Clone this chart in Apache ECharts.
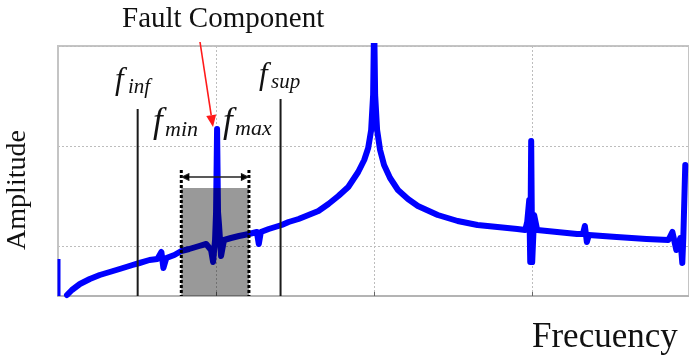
<!DOCTYPE html>
<html>
<head>
<meta charset="utf-8">
<script src="https://cdn.jsdelivr.net/npm/echarts@6/dist/echarts.min.js"></script>
<style>
  html, body { margin: 0; padding: 0; background: #fff; }
  #chart { width: 689px; height: 359px; }
</style>
</head>
<body>
<div id="chart"></div>
<script>
// Spectrum amplitude (arbitrary units) versus frequency (Hz)
const spectrum = [
  [1.42, 0.02], [2.20, 0.12], [3.46, 0.24], [5.03, 0.34], [6.60, 0.42],
  [8.18, 0.48], [9.75, 0.54], [11.79, 0.62], [12.89, 0.66], [14.47, 0.72],
  [15.72, 0.74], [16.35, 0.88], [16.67, 0.56], [17.14, 0.76], [18.40, 0.82],
  [19.50, 0.90], [20.75, 0.94], [22.33, 1.00], [23.43, 1.04], [24.21, 0.92],
  [24.53, 0.68], [24.84, 1.12], [25.00, 1.68], [25.16, 3.34], [25.31, 1.68],
  [25.47, 1.42], [25.79, 0.80], [26.26, 1.12], [27.36, 1.16], [28.62, 1.20],
  [30.19, 1.24], [31.45, 1.28], [31.76, 1.04], [32.08, 1.28], [33.33, 1.34],
  [35.38, 1.42], [36.48, 1.48], [38.05, 1.54], [39.62, 1.62], [41.19, 1.70],
  [42.77, 1.84], [44.34, 2.00], [45.91, 2.18], [47.48, 2.48], [48.43, 2.72],
  [49.06, 2.96], [49.53, 3.32], [49.84, 4.02], [50.00, 5.52], [50.16, 4.02],
  [50.47, 3.32], [50.94, 2.92], [51.57, 2.62], [52.52, 2.36], [53.77, 2.12],
  [55.35, 1.94], [56.92, 1.80], [60.06, 1.62], [63.21, 1.50], [66.35, 1.42],
  [69.50, 1.38], [72.64, 1.34], [73.90, 1.32], [74.21, 1.48], [74.53, 1.92],
  [74.69, 0.68], [74.84, 3.10], [75.00, 0.68], [75.31, 1.62], [75.79, 1.32],
  [78.93, 1.28], [82.08, 1.24], [83.02, 1.24], [83.33, 1.40], [83.65, 1.08],
  [83.96, 1.22], [88.36, 1.18], [93.08, 1.14], [96.54, 1.12], [97.17, 1.28],
  [97.80, 0.92], [98.43, 1.16], [98.74, 0.66], [98.90, 1.16], [99.21, 2.62]
];
// DC component at the very start of the spectrum
const dcSpike = [[0.16, 0], [0.16, 0.74]];

// Outer analysis bounds f_inf / f_sup and their marker heights
const boundFreqs = [12.6, 35.2];
const boundTops = [3.74, 3.94];

// Search window f_min .. f_max around the fault component
const searchWindow = [19.5, 30.2];
const windowLevel = 2.16;
const windowBracketLevel = 2.52;
const windowArrowLevel = 2.38;

const xTickStep = 25;
const xMax = 99.8;
const yMax = 5;

const chart = echarts.init(document.getElementById('chart'), null, { renderer: 'canvas' });

const serif = "'Liberation Serif', 'Times New Roman', serif";
const ink = '#111';

function italicText(text, x, y, size) {
  return { type: 'text', x: x, y: y, z: 100,
    style: { text: text, font: 'italic ' + size + 'px ' + serif, fill: ink,
      align: 'left', verticalAlign: 'middle', textAlign: 'left', textVerticalAlign: 'middle' } };
}

// Red pointer towards the fault component
const arrowStart = [200, 42];
const arrowTip = [213, 127];
const dx = arrowTip[0] - arrowStart[0], dy = arrowTip[1] - arrowStart[1];
const len = Math.hypot(dx, dy);
const ux = dx / len, uy = dy / len;
const headLen = 12, headHalf = 5;
const base = [arrowTip[0] - ux * headLen, arrowTip[1] - uy * headLen];

const option = {
  animation: false,
  backgroundColor: '#fff',
  grid: { left: 58, right: -4, top: 46, bottom: 63, show: true,
    borderColor: '#c4c4c4', borderWidth: 2, backgroundColor: 'transparent' },
  xAxis: {
    type: 'value', min: 0, max: xMax, interval: xTickStep,
    axisLine: { show: true, lineStyle: { color: '#b4b4b4', width: 2 } },
    axisTick: { show: true, inside: true, length: 4, lineStyle: { color: '#666' } },
    axisLabel: { show: false },
    splitLine: { show: true, lineStyle: { color: '#bdbdbd', type: [2, 2], width: 1 } }
  },
  yAxis: {
    type: 'value', min: 0, max: yMax, interval: 1,
    axisLine: { show: true, lineStyle: { color: '#c4c4c4', width: 2 } },
    axisTick: { show: false },
    axisLabel: { show: false },
    splitLine: { show: true, lineStyle: { color: ['rgba(0,0,0,0)', '#bdbdbd'], type: [2, 2], width: 1 } }
  },
  series: [
    {
      type: 'line', data: spectrum, showSymbol: false, symbol: 'none', z: 2,
      lineStyle: { color: '#0000ff', width: 6, join: 'round', cap: 'round' },
      clip: true
    },
    {
      type: 'line', data: dcSpike, showSymbol: false, symbol: 'none', z: 2,
      lineStyle: { color: '#0000ff', width: 3 }
    },
    {
      type: 'custom', z: 3,
      data: boundFreqs.map((f, i) => [f, boundTops[i]]),
      renderItem: function (params, api) {
        const top = api.coord([api.value(0), api.value(1)]);
        const bot = api.coord([api.value(0), 0]);
        return { type: 'line', shape: { x1: top[0], y1: top[1], x2: bot[0], y2: bot[1] },
          style: { stroke: '#1a1a1a', lineWidth: 2 } };
      }
    },
    {
      type: 'custom', z: 4,
      data: [[searchWindow[0], searchWindow[1], windowLevel, windowBracketLevel, windowArrowLevel]],
      renderItem: function (params, api) {
        const bl = api.coord([api.value(0), 0]);
        const tr = api.coord([api.value(1), api.value(2)]);
        const dTop = api.coord([api.value(0), api.value(3)])[1];
        const aY = api.coord([api.value(0), api.value(4)])[1];
        const xl = bl[0], xr = tr[0];
        const dot = { stroke: '#000', lineWidth: 3, lineDash: [3, 2] };
        const thin = { stroke: '#222', lineWidth: 1.3 };
        return { type: 'group', children: [
          { type: 'rect', shape: { x: xl, y: tr[1], width: xr - xl, height: bl[1] - tr[1] },
            style: { fill: 'rgba(0,0,0,0.4)' } },
          { type: 'line', shape: { x1: xl, y1: dTop, x2: xl, y2: bl[1] }, style: dot },
          { type: 'line', shape: { x1: xr, y1: dTop, x2: xr, y2: bl[1] }, style: dot },
          { type: 'line', shape: { x1: xl + 1, y1: aY, x2: xr - 1, y2: aY }, style: thin },
          { type: 'polyline', shape: { points: [[xl + 8, aY - 3.5], [xl + 1, aY], [xl + 8, aY + 3.5]] }, style: thin },
          { type: 'polyline', shape: { points: [[xr - 8, aY - 3.5], [xr - 1, aY], [xr - 8, aY + 3.5]] }, style: thin }
        ] };
      }
    }
  ],
  graphic: [
    { type: 'text', x: 122, y: 19, z: 100,
      style: { text: 'Fault Component', font: '29px ' + serif, fill: ink,
        align: 'left', verticalAlign: 'middle', textAlign: 'left', textVerticalAlign: 'middle' } },
    { type: 'text', x: 532, y: 338, z: 100,
      style: { text: 'Frecuency', font: '35px ' + serif, fill: ink,
        align: 'left', verticalAlign: 'middle', textAlign: 'left', textVerticalAlign: 'middle' } },
    { type: 'text', x: 17.5, y: 190, rotation: Math.PI / 2, z: 100,
      style: { text: 'Amplitude', font: '28px ' + serif, fill: ink,
        align: 'center', verticalAlign: 'middle', textAlign: 'center', textVerticalAlign: 'middle' } },
    italicText('f', 115, 81, 31), italicText('inf', 128, 87, 21),
    italicText('f', 259, 76, 31), italicText('sup', 271, 82, 21),
    italicText('f', 153, 123, 35), italicText('min', 165, 130, 22),
    italicText('f', 223, 123, 35), italicText('max', 235, 129, 22),
    { type: 'line', z: 100,
      shape: { x1: arrowStart[0], y1: arrowStart[1], x2: base[0], y2: base[1] },
      style: { stroke: '#ff1a1a', lineWidth: 1.6 } },
    { type: 'polygon', z: 100,
      shape: { points: [arrowTip,
        [base[0] + uy * headHalf, base[1] - ux * headHalf],
        [base[0] - uy * headHalf, base[1] + ux * headHalf]] },
      style: { fill: '#ff1a1a' } }
  ]
};

chart.setOption(option);
</script>
</body>
</html>
